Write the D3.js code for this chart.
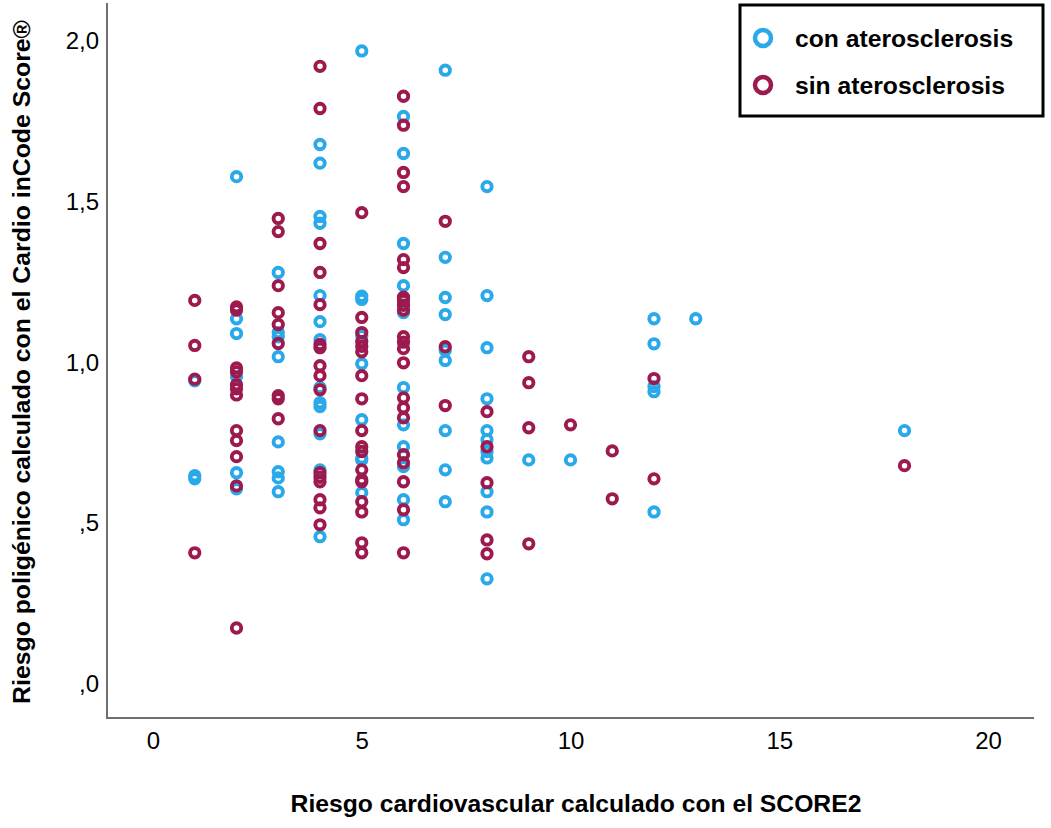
<!DOCTYPE html>
<html>
<head>
<meta charset="utf-8">
<script src="https://cdn.jsdelivr.net/npm/d3@7"></script>
<style>
  html, body { margin: 0; padding: 0; background: #ffffff; }
  svg { display: block; }
  text { font-family: "Liberation Sans", Arial, sans-serif; fill: #000; }
</style>
</head>
<body>
<svg id="chart" width="1051" height="828"></svg>
<script>
// ---- data ----
const seriesNames = ["con aterosclerosis", "sin aterosclerosis"];

// con aterosclerosis: SCORE2 (x) and polygenic risk (y)
const conScore = [
  1, 1, 1,
  2, 2, 2, 2, 2, 2,
  3, 3, 3, 3, 3, 3, 3, 3,
  4, 4, 4, 4, 4, 4, 4, 4, 4, 4, 4, 4, 4,
  5, 5, 5, 5, 5, 5, 5, 5, 5,
  6, 6, 6, 6, 6, 6, 6, 6, 6, 6, 6,
  7, 7, 7, 7, 7, 7, 7, 7, 7,
  8, 8, 8, 8, 8, 8, 8, 8, 8, 8, 8,
  9, 10,
  12, 12, 12, 12, 12,
  13, 18
];
const conPgr = [
  0.94, 0.645, 0.635,
  1.575, 1.133, 1.087, 0.953, 0.654, 0.604,
  1.277, 1.09, 1.077, 1.015, 0.75, 0.657, 0.638, 0.595,
  1.675, 1.617, 1.451, 1.43, 1.205, 1.124, 1.068, 0.919, 0.872, 0.86, 0.775, 0.663, 0.455,
  1.966, 1.203, 1.193, 1.08, 0.993, 0.819, 0.70, 0.694, 0.592,
  1.762, 1.647, 1.367, 1.236, 1.152, 0.919, 0.803, 0.735, 0.673, 0.57, 0.508,
  1.906, 1.324, 1.199, 1.146, 1.035, 1.003, 0.785, 0.663, 0.564,
  1.544, 1.205, 1.043, 0.884, 0.785, 0.757, 0.72, 0.70, 0.595, 0.532, 0.324,
  0.694, 0.694,
  1.133, 1.055, 0.922, 0.906, 0.532,
  1.133, 0.785
];

// sin aterosclerosis
const sinScore = [
  1, 1, 1, 1,
  2, 2, 2, 2, 2, 2, 2, 2, 2, 2, 2, 2,
  3, 3, 3, 3, 3, 3, 3, 3, 3,
  4, 4, 4, 4, 4, 4, 4, 4, 4, 4, 4, 4, 4, 4, 4, 4, 4,
  5, 5, 5, 5, 5, 5, 5, 5, 5, 5, 5, 5, 5, 5, 5, 5, 5, 5,
  6, 6, 6, 6, 6, 6, 6, 6, 6, 6, 6, 6, 6, 6, 6, 6, 6, 6, 6, 6, 6, 6,
  7, 7, 7,
  8, 8, 8, 8, 8,
  9, 9, 9, 9,
  10,
  11, 11,
  12, 12,
  18
];
const sinPgr = [
  1.19, 1.05, 0.945, 0.405,
  1.17, 1.16, 0.98, 0.968, 0.928, 0.915, 0.896, 0.785, 0.754, 0.704, 0.613, 0.171,
  1.445, 1.404, 1.236, 1.152, 1.115, 1.056, 0.894, 0.884, 0.822,
  1.918, 1.787, 1.367, 1.277, 1.177, 1.053, 1.043, 0.987, 0.956, 0.912, 0.785, 0.654, 0.64, 0.626, 0.57, 0.545, 0.492,
  1.463, 1.137, 1.09, 1.062, 1.047, 1.03, 0.956, 0.884, 0.785, 0.735, 0.72, 0.663, 0.632, 0.626, 0.564, 0.532, 0.436, 0.405,
  1.825, 1.735, 1.588, 1.544, 1.317, 1.292, 1.2, 1.19, 1.175, 1.16, 1.077, 1.06, 1.04, 0.996, 0.887, 0.856, 0.825, 0.71, 0.685, 0.626, 0.539, 0.405,
  1.436, 1.046, 0.863,
  0.844, 0.735, 0.623, 0.445, 0.402,
  1.015, 0.934, 0.794, 0.433,
  0.803,
  0.722, 0.573,
  0.947, 0.635,
  0.676
];

const xTickValues = [0, 5, 10, 15, 20];
const xTickLabels = ["0", "5", "10", "15", "20"];
const yTickValues = [0, 0.5, 1.0, 1.5, 2.0];
const yTickLabels = [",0", ",5", "1,0", "1,5", "2,0"];

const xTitle = "Riesgo cardiovascular calculado con el SCORE2";
const yTitle = "Riesgo poligénico calculado con el Cardio inCode Score®";

// ---- drawing ----
const colors = ["#2aa9ea", "#9c1a4e"];
const svg = d3.select("#chart");

const x = d3.scaleLinear().domain([0, 20]).range([153, 988]);
const y = d3.scaleLinear().domain([0, 2]).range([683, 40]);

const plotLeft = 107, plotRight = 1034, plotTop = 3, plotBottom = 718;

// axis lines
svg.append("line")
  .attr("x1", plotLeft).attr("x2", plotLeft)
  .attr("y1", plotTop).attr("y2", plotBottom)
  .attr("stroke", "#6f6f6f").attr("stroke-width", 2);
svg.append("line")
  .attr("x1", plotLeft - 1).attr("x2", plotRight)
  .attr("y1", plotBottom).attr("y2", plotBottom)
  .attr("stroke", "#6f6f6f").attr("stroke-width", 2);

// x tick labels via axis generator (no tick lines)
const xAxis = d3.axisBottom(x)
  .tickValues(xTickValues)
  .tickFormat((d, i) => xTickLabels[i])
  .tickSize(0).tickPadding(0);
const gx = svg.append("g").attr("transform", `translate(0, ${plotBottom})`).call(xAxis);
gx.select(".domain").remove();
gx.selectAll("text")
  .attr("y", 31).attr("dy", 0)
  .style("font-size", "24px")
  .style("font-family", "'Liberation Sans', Arial, sans-serif")
  .attr("fill", "#000");

const yAxis = d3.axisLeft(y)
  .tickValues(yTickValues)
  .tickFormat((d, i) => yTickLabels[i])
  .tickSize(0).tickPadding(0);
const gy = svg.append("g").attr("transform", `translate(99, 0)`).call(yAxis);
gy.select(".domain").remove();
gy.selectAll("text")
  .attr("x", 0).attr("dy", "0.36em")
  .style("font-size", "24px")
  .style("font-family", "'Liberation Sans', Arial, sans-serif")
  .attr("fill", "#000");

// titles
svg.append("text")
  .attr("x", 576).attr("y", 812)
  .attr("text-anchor", "middle")
  .style("font-size", "24.7px").style("font-weight", "bold")
  .text(xTitle);
svg.append("text")
  .attr("transform", "translate(30, 362) rotate(-90)")
  .attr("text-anchor", "middle")
  .style("font-size", "24.8px").style("font-weight", "bold")
  .text(yTitle);

// points
const conData = conScore.map((s, i) => ({ s, p: conPgr[i] }));
const sinData = sinScore.map((s, i) => ({ s, p: sinPgr[i] }));

[conData, sinData].forEach((data, k) => {
  svg.append("g").selectAll("circle")
    .data(data).join("circle")
    .attr("cx", d => x(d.s))
    .attr("cy", d => y(d.p))
    .attr("r", 4.7)
    .attr("fill", "none")
    .attr("stroke", colors[k])
    .attr("stroke-width", 3.9);
});

// legend
const lg = svg.append("g");
lg.append("rect")
  .attr("x", 740).attr("y", 5).attr("width", 303).attr("height", 111)
  .attr("fill", "#fff").attr("stroke", "#000").attr("stroke-width", 3);
seriesNames.forEach((name, i) => {
  const cy = 38 + i * 47;
  lg.append("circle")
    .attr("cx", 763).attr("cy", cy).attr("r", 8)
    .attr("fill", "none").attr("stroke", colors[i]).attr("stroke-width", 4.5);
  lg.append("text")
    .attr("x", 795).attr("y", cy + 9)
    .style("font-size", "24.7px").style("font-weight", "bold")
    .text(name);
});
</script>
</body>
</html>
